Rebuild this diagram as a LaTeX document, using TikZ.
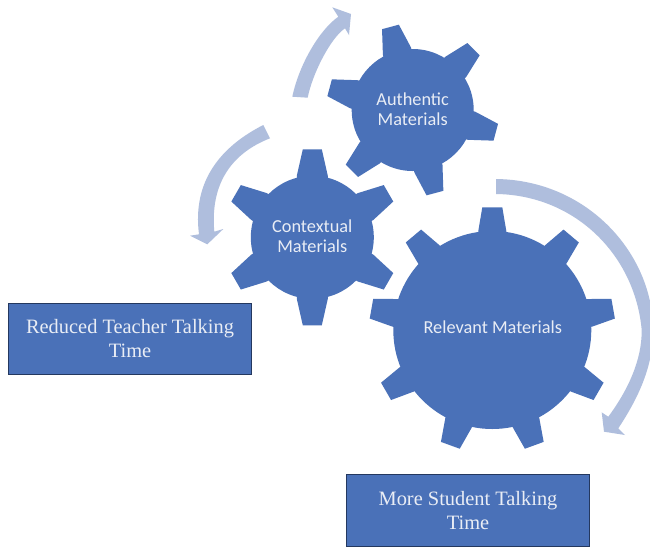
\documentclass[tikz,border=0pt]{standalone}
\usepackage{fontspec}
\setmainfont{Liberation Serif}
\newfontfamily\gearfont{Carlito}
\definecolor{gearblue}{HTML}{4A71B8}
\definecolor{boxedge}{HTML}{24385F}
\definecolor{arrowblue}{HTML}{AFBEDD}
\definecolor{labelwhite}{HTML}{E9EDF5}
\tikzset{
  gearfill/.style={fill=gearblue,draw=none},
  bandfill/.style={fill=arrowblue,draw=none},
  gearlabel/.style={text=labelwhite,font=\gearfont\fontsize{18.3}{19.5}\selectfont,align=center,inner sep=0pt},
  boxlabel/.style={draw=boxedge,line width=1.6pt,fill=gearblue,text=labelwhite,font=\fontsize{20.4}{24}\selectfont,align=center,inner sep=0pt},
}
% cx, cy, body r, tip r, tip half width, base half width, angle list
\newcommand{\gearshape}[7]{%
  \fill[gearfill] (#1,#2) circle (#3);
  \foreach \toothangle in {#7}{%
    \fill[gearfill,shift={(#1,#2)},rotate=\toothangle]
      (#3-6,-#6) -- (#3,-#6) -- (#4,-#5) -- (#4,#5) -- (#3,#6) -- (#3-6,#6) -- cycle;
  }%
}
\begin{document}
\begin{tikzpicture}[x=1pt,y=-1pt]
\useasboundingbox (0,0) rectangle (650,547);
\fill[white] (0,0) rectangle (650,547);
% curved arrows
\fill[bandfill] (292.3,96.7) .. controls (299,65) and (319,30.3) .. (338.3,16.7)
  -- (332.3,7.3) -- (351,14) -- (349,35) -- (345,28.3)
  .. controls (330,38.5) and (312,75) .. (307.7,97.7) -- cycle;
\fill[bandfill] (263.3,125) .. controls (222,146) and (192,180) .. (199,234.3)
  -- (190,235.7) -- (207.3,244.3) -- (223.3,229) -- (214.3,231.7)
  .. controls (209.3,175.5) and (240,150) .. (270,138.3) -- cycle;
\begin{scope}
\clip (0,0) rectangle (650,547);
\fill[bandfill] (496,179) .. controls (585,180) and (650,250) .. (653,325)
  .. controls (655,365) and (637,400) .. (618.3,428.3)
  -- (625,435) -- (604,431.7) -- (601.7,412.3) -- (608.3,416.7)
  .. controls (628,390) and (642,360) .. (641.7,330)
  .. controls (635,255) and (575,195) .. (496,194) -- cycle;
\end{scope}
% gears
\gearshape{412.7}{110}{61}{86}{8.7}{14.5}{45,105,165,225,285,345}
\gearshape{312.3}{237.3}{61.5}{88}{9.5}{15.5}{30,90,150,210,270,330}
\gearshape{492.3}{330}{99}{122.7}{10}{14}{10,50,90,130,170,210,250,290,330}
\node[gearlabel] (authentic) at (412.7,109) {Authentic\\Materials};
\node[gearlabel] (contextual) at (312.3,236) {Contextual\\Materials};
\node[gearlabel] (relevant) at (492.8,327.5) {Relevant Materials};
\node[boxlabel,minimum width=243pt,minimum height=71pt] (reduced) at (130,339) {Reduced Teacher Talking\\Time};
\node[boxlabel,minimum width=243pt,minimum height=72pt] (more) at (468,510.5) {More Student Talking\\Time};
\end{tikzpicture}
\end{document}
